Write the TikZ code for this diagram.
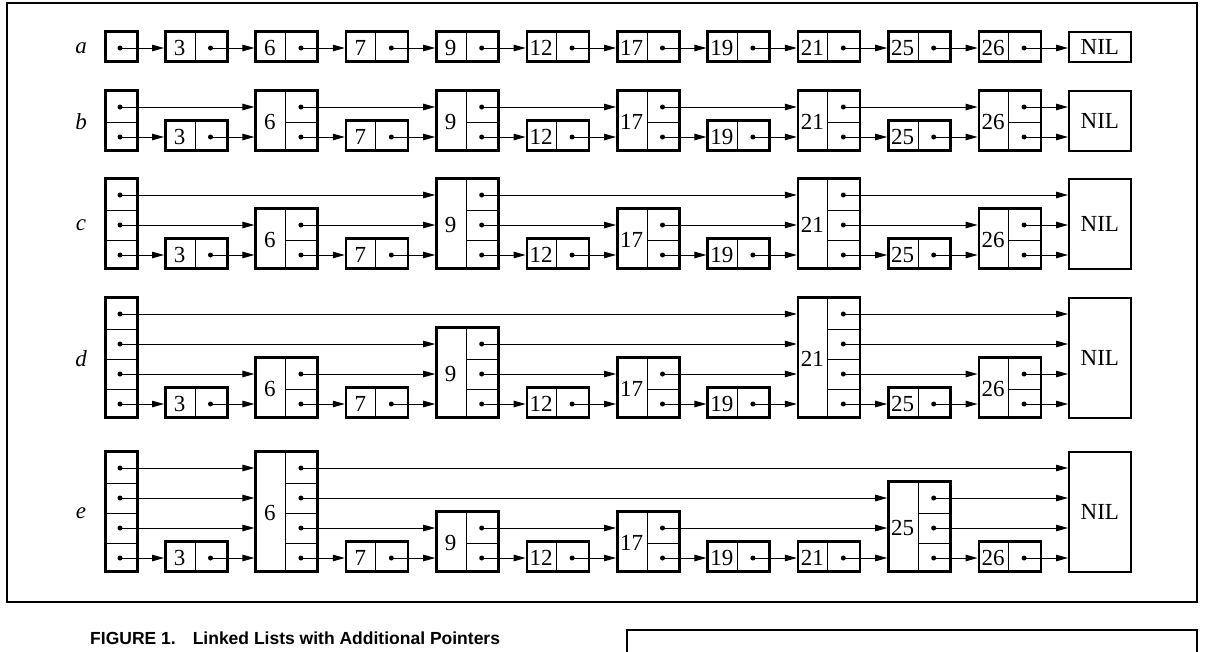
\documentclass[tikz,border=0pt]{standalone}
\usepackage{fontspec}
\setmainfont{Liberation Serif}
\newfontfamily\capfont{Liberation Sans}
\usetikzlibrary{arrows.meta, positioning, calc}

\tikzset{
    boxline/.style={draw, line width=2.6pt, inner sep=0pt, anchor=south west},
    nilbox/.style={draw, line width=1.6pt, inner sep=0pt, anchor=south west, minimum width=62pt, font=\fontsize{23}{26}\selectfont},
    divline/.style={line width=0.9pt},
    ptr/.style={line width=1pt, -{Triangle[length=12pt, width=6.5pt]}},
    rowlabel/.style={font=\fontsize{23}{26}\selectfont\itshape},
    keytext/.style={font=\fontsize{23}{26}\selectfont, inner sep=0pt},
}

% #1 row name, #2 bottom y, #3 header levels, #4 key/level list
\newcommand{\skiprow}[4]{%
    % label and header
    \node[rowlabel] (#1lab) at (81,{#2-15*#3}) {#1};
    \node[boxline, minimum width=32pt, minimum height={30pt*#3}] (#1h) at (104,#2) {};
    \ifnum#3>1 \foreach \m in {2,...,#3} \draw[divline] (104,{#2-30*(\m-1)}) -- (136,{#2-30*(\m-1)}); \fi
    \foreach \m in {1,...,#3} {
        \coordinate (#1hp\m) at (120,{#2-15-30*(\m-1)});
        \fill (#1hp\m) circle (2.5pt);
    }
    % list nodes
    \foreach \kk/\lv [count=\n] in {#4} {
        \pgfmathsetmacro\xx{164+90.4*(\n-1)}
        \node[boxline, minimum width=62pt, minimum height={30pt*\lv}] (#1\kk) at (\xx,#2) {};
        \node[keytext] (#1\kk key) at ({\xx+15.5},{#2-15*\lv}) {\kk};
        \draw[divline] ({\xx+31},#2) -- ({\xx+31},{#2-30*\lv});
        \ifnum\lv>1 \foreach \m in {2,...,\lv} \draw[divline] ({\xx+31},{#2-30*(\m-1)}) -- ({\xx+62},{#2-30*(\m-1)}); \fi
        \foreach \m in {1,...,\lv} {
            \coordinate (#1\kk p\m) at ({\xx+46.5},{#2-15-30*(\m-1)});
            \fill (#1\kk p\m) circle (2.5pt);
        }
    }
    \node[nilbox, minimum height={30pt*#3}] (#1NIL) at (1068,#2) {NIL};
    % pointers, one level at a time
    \foreach \lev in {1,...,#3} {
        \xdef\prev{#1h}
        \foreach \kk/\lv in {#4} {
            \ifnum\lv<\lev\relax\else
                \draw[ptr] (\prev p\lev) -- (\prev p\lev -| #1\kk.west);
                \xdef\prev{#1\kk}
            \fi
        }
        \draw[ptr] (\prev p\lev) -- (\prev p\lev -| #1NIL.west);
    }
}

\begin{document}
\begin{tikzpicture}[x=1pt, y=-1pt]
    \useasboundingbox (0,0) rectangle (1207,651);
    \draw[line width=2.8pt] (7,3) rectangle (1197,602);

    \skiprow{a}{63}{1}{3/1,6/1,7/1,9/1,12/1,17/1,19/1,21/1,25/1,26/1}
    \skiprow{b}{152}{2}{3/1,6/2,7/1,9/2,12/1,17/2,19/1,21/2,25/1,26/2}
    \skiprow{c}{270}{3}{3/1,6/2,7/1,9/3,12/1,17/2,19/1,21/3,25/1,26/2}
    \skiprow{d}{419}{4}{3/1,6/2,7/1,9/3,12/1,17/2,19/1,21/4,25/1,26/2}
    \skiprow{e}{573}{4}{3/1,6/4,7/1,9/2,12/1,17/2,19/1,21/1,25/3,26/1}

    % caption and next frame
    \node[font=\capfont\bfseries\fontsize{17.5}{20}\selectfont, anchor=base west, inner sep=0pt] (caption) at (90,644) {FIGURE 1.\hspace{17pt}Linked Lists with Additional Pointers};
    \draw[line width=2.8pt] (627,655) -- (627,630) -- (1197,630) -- (1197,655);
\end{tikzpicture}
\end{document}
